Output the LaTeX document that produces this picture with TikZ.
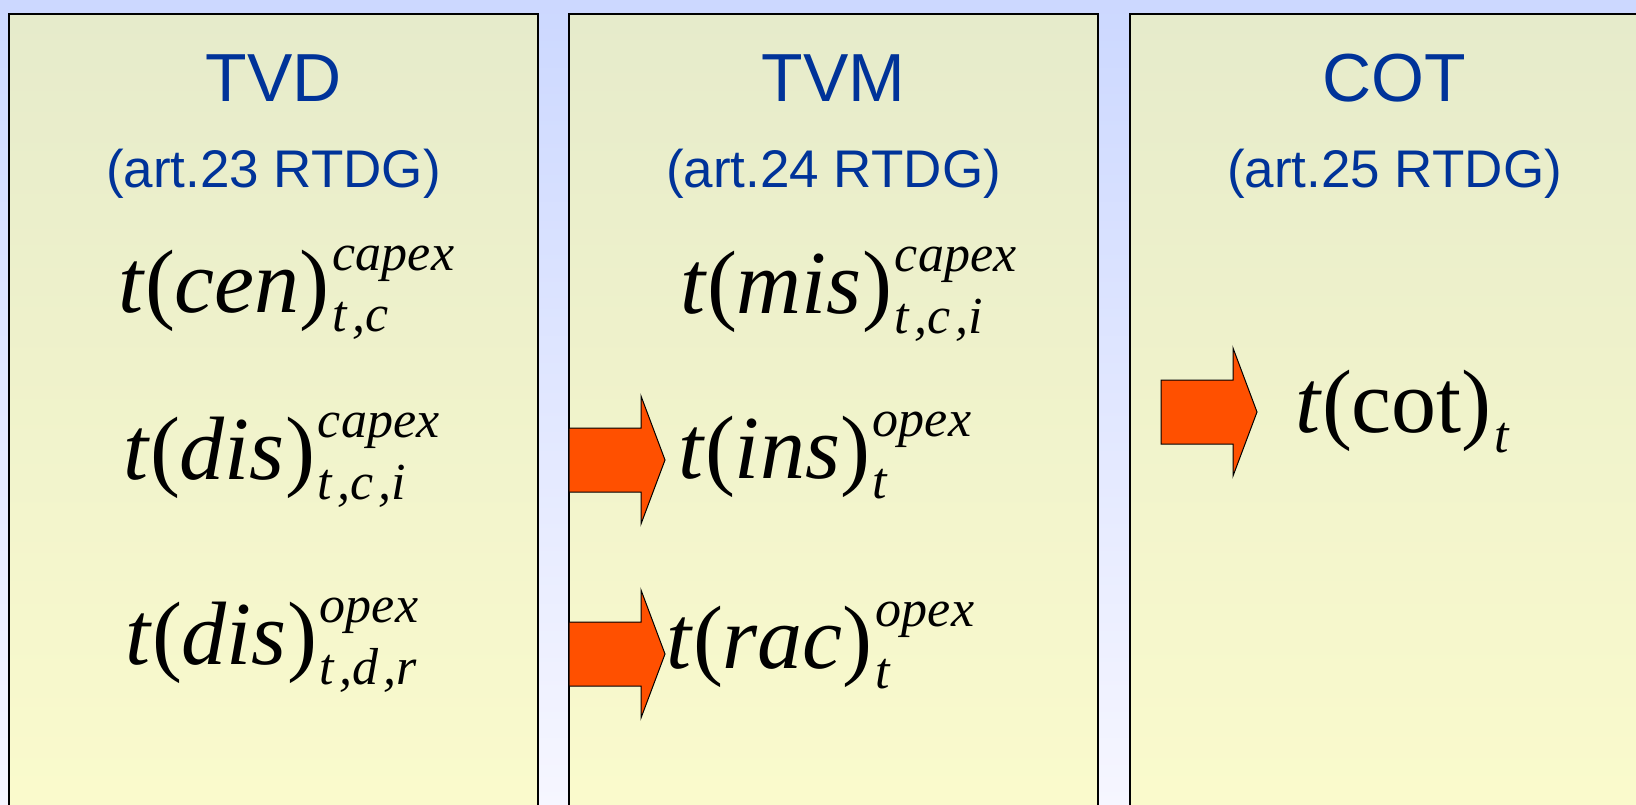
\documentclass[tikz,border=0pt]{standalone}
\usepackage{fontspec}
\setmainfont{Liberation Serif}
\newfontfamily\headfont{Liberation Sans}

\definecolor{bgtop}{RGB}{204,216,255}
\definecolor{bgbot}{RGB}{246,246,255}
\definecolor{paneltop}{RGB}{230,235,203}
\definecolor{panelbot}{RGB}{251,251,204}
\definecolor{titleblue}{RGB}{0,51,153}
\definecolor{arrowred}{RGB}{255,80,0}

% superscript #1 over subscript #2, set after the main text
\newcommand{\supsub}[2]{%
  \kern3pt
  \setbox0=\hbox{\fontsize{52}{52}\selectfont\itshape #1}%
  \setbox2=\hbox{\fontsize{52}{52}\selectfont\itshape #2}%
  \dimen0=\wd0 \ifdim\wd2>\dimen0 \dimen0=\wd2 \fi
  \rlap{\raisebox{42pt}{\box0}}\rlap{\raisebox{-20pt}{\box2}}\hspace{\dimen0}}
\newcommand{\rate}[1]{\textit{t}(\textit{#1})}
\newcommand{\sep}{\kern5pt,}

\begin{document}
\begin{tikzpicture}[x=1pt,y=-1pt,
   panel/.style={draw=black,line width=1.5pt,top color=paneltop,bottom color=panelbot},
   title/.style={font=\headfont\fontsize{68}{68}\selectfont,text=titleblue,anchor=base,inner sep=0pt},
   article/.style={font=\headfont\fontsize{53}{53}\selectfont,text=titleblue,anchor=base,inner sep=0pt},
   formula/.style={font=\fontsize{90}{90}\selectfont,anchor=base west,inner sep=0pt},
   blockarrow/.style={draw=black,line width=1pt,fill=arrowred,line join=miter}]
   \useasboundingbox (0,0) rectangle (1636,805);
   \clip (0,0) rectangle (1636,805);
   \shade[top color=bgtop,bottom color=bgbot] (0,0) rectangle (1636,805);
   % the three panels with their headings
   \foreach \x/\name/\art in {9/TVD/23,569/TVM/24,1130/COT/25}{
      \shade[panel] (\x,14) rectangle ++(529,820);
      \node[title] (\name) at ({\x+264.5},102) {\name};
      \node[article] (art\art) at ({\x+264.5},188) {(art.\art{} RTDG)};
   }
   % rates
   \node[formula] (cen) at (118,312) {\rate{cen}\supsub{capex}{t\sep c}};
   \node[formula] (discap) at (123,479) {\rate{dis}\supsub{capex}{t\sep c\sep i}};
   \node[formula] (disop) at (125,664) {\rate{dis}\supsub{opex}{t\sep d\sep r}};
   \node[formula] (mis) at (680,313) {\rate{mis}\supsub{capex}{t\sep c\sep i}};
   \node[formula] (ins) at (678,478) {\rate{ins}\supsub{opex}{t}};
   \node[formula] (rac) at (666,668) {\rate{rac}\supsub{opex}{t}};
   \node[formula] (cot) at (1295,432) {\textit{t}(cot)\supsub{}{t}};
   % block arrows: shaft start x, tip y
   \foreach \sx/\ty in {569/460,569/654,1161/412}
      \draw[blockarrow] (\sx,\ty-32) -- ++(72,0) -- ++(0,-32) -- ++(24,64)
         -- ++(-24,64) -- ++(0,-32) -- ++(-72,0) -- cycle;
\end{tikzpicture}
\end{document}
